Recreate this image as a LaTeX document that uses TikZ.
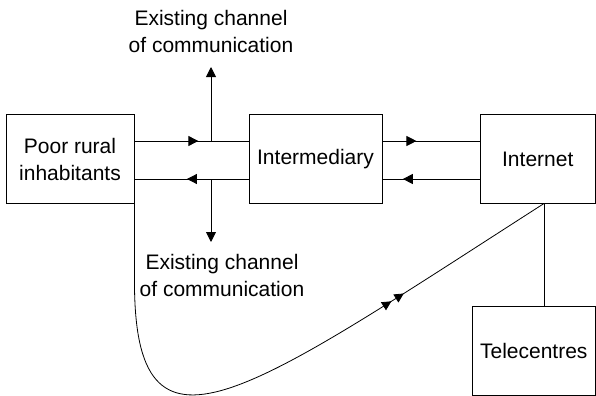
\documentclass[tikz,border=0pt]{standalone}
\usepackage{fontspec}
\setmainfont{Liberation Sans}
\usetikzlibrary{arrows.meta, decorations.markings}
\tikzset{
  box/.style={draw, align=center, inner sep=0pt},
  tip/.style={-{Triangle[length=7.5pt,width=7.5pt]}},
  midarrow/.style={postaction={decorate},
    decoration={markings, mark=at position #1 with {\arrow{Triangle[length=7.5pt,width=7.5pt]}}}},
}
\begin{document}
\begin{tikzpicture}[x=0.75pt,y=-0.75pt,line width=0.7pt,font=\fontsize{15.75}{20.25}\selectfont]
\useasboundingbox (0,0) rectangle (596,396);
% The four boxes
\node[box,minimum width=96pt,minimum height=67pt] (rural) at (70,159) {Poor rural\\inhabitants};
\node[box,minimum width=99.75pt,minimum height=67pt] (inter) at (315.5,159) {Intermediary};
\node[box,minimum width=86.6pt,minimum height=67pt] (net) at (537.75,159) {Internet};
\node[box,minimum width=92.6pt,minimum height=66.75pt] (tele) at (533.75,350.5) {Telecentres};
% Labels of the existing channel
\node[align=center] (toplabel) at (211,31) {Existing channel\\of communication};
\node[align=center] (botlabel) at (222,275) {Existing channel\\of communication};
% Two-way links between the boxes
\draw[midarrow=0.56] ([yshift=13.5pt]rural.east) -- ([yshift=13.5pt]inter.west);
\draw[midarrow=0.54] ([yshift=-15pt]inter.west) -- ([yshift=-15pt]rural.east);
\draw[midarrow=0.35] ([yshift=13.5pt]inter.east) -- ([yshift=13.5pt]net.west);
\draw[midarrow=0.79] ([yshift=-15pt]net.west) -- ([yshift=-15pt]inter.east);
% Arrows out to the existing channel
\coordinate (up) at (211,141);
\coordinate (uptip) at (211,67);
\coordinate (down) at (211,179);
\coordinate (downtip) at (211,242);
\draw[tip] (up) -- (uptip);
\draw[tip] (down) -- (downtip);
% Direct route to the Internet
\coordinate (hub) at (544,203.5);
\draw[line width=0.6pt,postaction={decorate},
  decoration={markings,
    mark=at position -125pt with {\arrow{Triangle[length=7pt,width=7pt]}},
    mark=at position -136pt with {\arrow{Triangle[length=7pt,width=7pt]}}}]
  (rural.south east) -- ++(0,76) .. controls (134,480) and (244,396) .. (hub);
\draw (hub) -- (hub |- tele.north);
\end{tikzpicture}
\end{document}
